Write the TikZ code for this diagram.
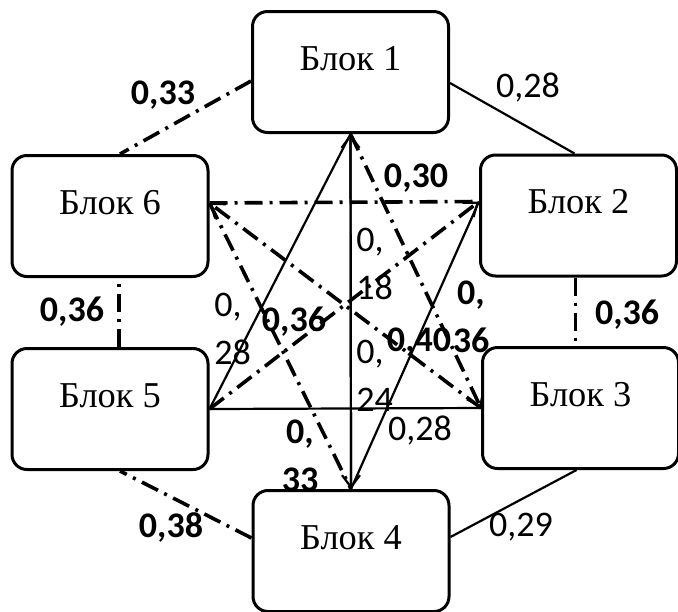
\documentclass[tikz,border=0pt]{standalone}
\usepackage{fontspec}
\setmainfont{Liberation Serif}
\newfontfamily\labelfont{Carlito}
\usetikzlibrary{arrows.meta}
\pgfdeclarelayer{background}
\pgfsetlayers{background,main}

\tikzset{
  block/.style={draw, line width=1.5pt, rounded corners=7.5pt, fill=white,
    minimum width=98pt, minimum height=60.5pt, text height=12.5pt, text depth=14.5pt,
    font=\fontsize{18.2}{22}\selectfont},
  dashdot/.style={line width=1.8pt, dash pattern=on 9pt off 3.5pt on 1.5pt off 3.5pt},
  plain/.style={line width=1.1pt},
  tip/.style={-{Straight Barb[length=6pt,width=9pt,line width=1.1pt]}},
  val/.style={font=\labelfont\fontsize{18}{24}\selectfont, inner sep=0pt, align=center},
  bval/.style={val, font=\labelfont\bfseries\fontsize{18}{24}\selectfont},
}

\begin{document}
\begin{tikzpicture}[x=0.5pt,y=-0.5pt]
      \useasboundingbox (0,0) rectangle (678,611);

      \begin{scope}[every node/.style={block}]
        \node (1) at (350.5,72)  {Блок 1};
        \node (2) at (578.5,215.5) {Блок 2};
        \node (3) at (580.5,408) {Блок 3};
        \node (4) at (351,551)   {Блок 4};
        \node (5) at (110,409)   {Блок 5};
        \node (6) at (110,216)   {Блок 6};
      \end{scope}

      \begin{pgfonlayer}{background}
      % outer ring
      \path ([yshift=-4.5pt]1.west) edge[dashdot] ([xshift=5pt]6.north);
      \path ([yshift=-5.5pt]1.east) edge[plain] ([xshift=-2pt]2.north);
      \path ([xshift=-1.5pt]2.south) edge[dashdot] ([xshift=-1.5pt]2.south |- 3.north);
      \path ([xshift=-2pt]3.south) edge[plain] ([yshift=7pt]4.east);
      \path ([yshift=6.5pt]4.west) edge[dashdot] ([xshift=5pt]5.south);
      \path ([xshift=4.5pt]5.north) edge[dashdot] ([xshift=4.5pt]5.north |- 6.south);

      % inner links
      \path (4.north) edge[plain,tip] (1.south);
      \path (1.south) edge[plain,tip] (4.north);
      \path (5.east) edge[plain] (1.south);
      \path (5.east) edge[plain] (3.west);
      \path ([yshift=7pt]2.west) edge[plain] (4.north);
      \path ([yshift=6.5pt]6.east) edge[dashdot] ([yshift=7pt]2.west);
      \path (3.west) edge[dashdot,tip] ([yshift=6.5pt]6.east);
      \path ([yshift=6.5pt]6.east) edge[dashdot] (4.north);
      \path (1.south) edge[dashdot,tip] (3.west);
      \path (5.east) edge[dashdot,tip] ([yshift=7pt]2.west);

      % weights
      \node[bval] (w16) at (163,95)  {0,33};
      \node[val]  (w12) at (528,88)  {0,28};
      \node[bval] (w23) at (627,315) {0,36};
      \node[val]  (w34) at (521,527) {0,29};
      \node[bval] (w45) at (171,527) {0,38};
      \node[bval] (w56) at (72,312)  {0,36};
      \node[bval] (w62) at (416,178) {0,30};
      \node[val,align=left,anchor=west]  (w41) at (356,264) {0,\\18};
      \node[val,align=left,anchor=west]  (w51) at (214,329) {0,\\28};
      \node[val,align=left,anchor=west]  (w14) at (356,376) {0,\\24};
      \node[bval] (w52) at (294,322) {0,36};
      \node[bval] (w24) at (419,342) {0,40};
      \node[bval] (w13) at (471,317) {0,\\36};
      \node[val]  (w53) at (420,430) {0,28};
      \node[bval] (w64) at (300,456) {0,\\33};
      \end{pgfonlayer}

    \end{tikzpicture}
\end{document}
